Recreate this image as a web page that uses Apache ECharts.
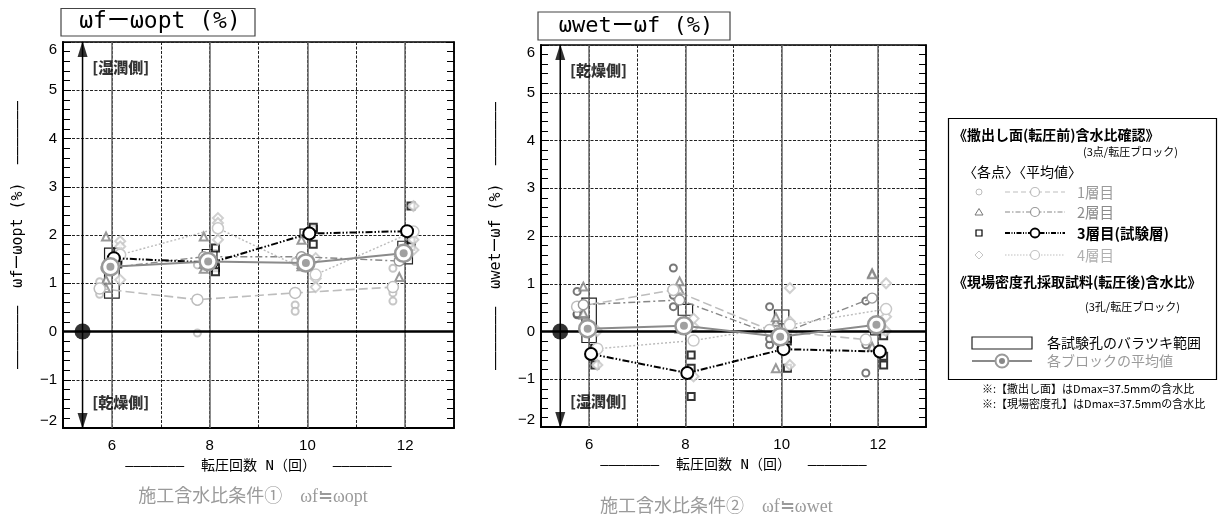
<!DOCTYPE html>
<html><head><meta charset="utf-8">
<script src="https://cdn.jsdelivr.net/npm/echarts@6/dist/echarts.min.js"></script>
<style>html,body{margin:0;padding:0;background:#fff}#c{width:1226px;height:520px}</style>
</head><body><div id="c"></div>
<script>
// ---------- data ----------
const passes = [6, 8, 10, 12];               // 転圧回数 N
const xTickLabels = [6, 8, 10, 12];

// Left chart: ωf − ωopt (%)
const leftL1Points = [[1.03, 0.87, 0.77], [-0.03, 1.38, 0.62], [0.55, 0.42, 1.45], [1.31, 0.80, 0.63]];
const leftL1Mean   = [0.89, 0.66, 0.80, 0.92];
const leftL2Points = [[1.97, 1.07, 0.90], [1.97, 1.40, 1.30], [1.90, 1.40, 1.35], [1.13, 1.60, 1.65]];
const leftL2Mean   = [1.31, 1.55, 1.55, 1.46];
const leftL3Points = [[1.66, 1.50, 1.40], [1.73, 1.32, 1.24], [2.12, 1.81, 2.16], [2.60, 1.88, 1.76]];
const leftL3Mean   = [1.52, 1.43, 2.03, 2.08];
const leftL4Points = [[1.87, 1.76, 1.07], [2.35, 2.25, 1.90], [1.52, 1.10, 0.92], [2.60, 1.90, 1.69]];
const leftL4Mean   = [1.59, 2.14, 1.18, 2.07];
const leftHoleRange = [[0.69, 1.73], [1.27, 1.70], [1.95, 2.12], [1.40, 1.87]];
const leftBlockMean = [1.34, 1.45, 1.42, 1.62];

// Right chart: ωwet − ωf (%)
const rightL1Points = [[0.84, 0.35, 0.37], [1.33, 0.52, 0.76], [0.52, -0.28, -0.15], [-0.87, -0.28, 0.64]];
const rightL1Mean   = [0.52, 0.87, 0.03, -0.17];
const rightL2Points = [[0.94, 0.35, 0.39], [1.05, 0.87, 0.06], [-0.77, 0.20, 0.30], [1.22, -0.32, 1.20]];
const rightL2Mean   = [0.56, 0.66, -0.09, 0.70];
const rightL3Points = [[-0.70, -0.35, -0.36], [-0.49, -1.36, -0.77], [-0.77, -0.20, -0.14], [-0.70, -0.52, -0.09]];
const rightL3Mean   = [-0.47, -0.87, -0.37, -0.42];
const rightL4Points = [[-0.70, 0.01, -0.40], [0.10, -0.94, 0.27], [0.91, -0.70, 0.21], [1.01, 0.31, 0.01]];
const rightL4Mean   = [-0.36, -0.19, 0.14, 0.47];
const rightHoleRange = [[-0.23, 0.70], [0.34, 0.57], [0.16, 0.45], [-0.07, 0.12]];
const rightBlockMean = [0.06, 0.12, -0.11, 0.14];

// ---------- styling ----------
const MONO = "'DejaVu Sans Mono','Noto Sans CJK JP',monospace";
const JP = "'Noto Sans CJK JP',sans-serif";
const NARROW = "'Liberation Sans Narrow','Liberation Sans',sans-serif";
const minus = v => (v < 0 ? '\u2212' + Math.abs(v) : String(v));

function xAxisCfg(g, name) {
  return {
    type: 'value', gridIndex: g, min: 5, max: 13, interval: 1,
    axisLine: { show: true, onZero: false, lineStyle: { color: '#000', width: 2 } },
    axisTick: { show: false },
    axisLabel: { color: '#000', fontSize: 15, fontFamily: NARROW, margin: 10,
      formatter: v => (xTickLabels.indexOf(v) >= 0 ? String(v) : '') },
    splitLine: { show: true, lineStyle: { color: '#222', width: 1, type: [3, 1.5] } },
    name: name, nameLocation: 'middle', nameGap: 31,
    nameTextStyle: { color: '#000', fontSize: 14, fontFamily: MONO }
  };
}
function yAxisCfg(g, name) {
  return {
    type: 'value', gridIndex: g, min: -2, max: 6, interval: 1, position: 'left',
    axisLine: { show: true, onZero: false, lineStyle: { color: '#000', width: 2 } },
    axisTick: { show: true, inside: true, length: 8, lineStyle: { color: '#000', width: 1 } },
    minorTick: { show: true, splitNumber: 5, length: 7, lineStyle: { color: '#000', width: 1 } },
    axisLabel: { color: '#000', fontSize: 15, fontFamily: NARROW, margin: 6, formatter: minus,
      verticalAlignMaxLabel: 'top', verticalAlignMinLabel: 'bottom' },
    splitLine: { show: true, lineStyle: { color: '#222', width: 1, type: [3, 1.5] } },
    name: name, nameLocation: 'middle', nameRotate: 90, nameGap: 37,
    nameTextStyle: { color: '#000', fontSize: 15, fontFamily: MONO }
  };
}
function yAxisRight(g) {
  return {
    type: 'value', gridIndex: g, min: -2, max: 6, interval: 1, position: 'right',
    axisLine: { show: true, onZero: false, lineStyle: { color: '#000', width: 1.5 } },
    axisTick: { show: true, inside: true, length: 8, lineStyle: { color: '#000', width: 1 } },
    minorTick: { show: true, splitNumber: 5, length: 7, lineStyle: { color: '#000', width: 1 } },
    axisLabel: { show: false }, splitLine: { show: false }
  };
}

const OFF = { L1: -0.25, L2: -0.12, L3: 0.12, L3m: 0.04, L4: 0.17, blk: -0.03 };

function buildSeries(g, d, l1PointColor, topText, bottomText) {
  const xi = g, yi = g * 2;
  const base = { xAxisIndex: xi, yAxisIndex: yi, animation: false };
  const pts = (arr, off) => passes.flatMap((n, i) => arr[i].map(v => [n + off, v]));
  const means = (arr, off) => passes.map((n, i) => [n + off, arr[i]]);
  const S = [];
  S.push(Object.assign({}, base, {
    type: 'line', data: [], z: 1, silent: true,
    markLine: { silent: true, symbol: 'none', label: { show: false }, animation: false,
      data: passes.map(n => ({ xAxis: n, lineStyle: { color: '#666', width: 1.5, type: 'solid' } }))
        .concat([{ yAxis: 0, lineStyle: { color: '#000', width: 2.5, type: 'solid' } }]) }
  }));
  S.push(Object.assign({}, base, { type: 'line', data: [[5.4, -2], [5.4, 6]], symbol: 'none', z: 2,
    lineStyle: { color: '#000', width: 1.5 }, silent: true }));
  S.push(Object.assign({}, base, { type: 'scatter', symbol: 'triangle', symbolSize: [10, 16], z: 3,
    itemStyle: { color: '#000' }, silent: true,
    data: [{ value: [5.4, 6], symbolOffset: [0, 7] }, { value: [5.4, -2], symbolRotate: 180, symbolOffset: [0, -7] }] }));
  S.push(Object.assign({}, base, { type: 'scatter', symbol: 'circle', symbolSize: 16, z: 6,
    itemStyle: { color: '#000' }, data: [[5.4, 0]], silent: true }));
  S.push(Object.assign({}, base, { type: 'scatter', symbolSize: 0, z: 6, silent: true,
    label: { show: true, position: 'right', distance: 0, color: '#000', fontSize: 15, fontWeight: 900, fontFamily: JP,
      formatter: p => p.name },
    data: [{ name: topText, value: [5.6, 5.47] }, { name: bottomText, value: [5.6, -1.47] }] }));
  S.push(Object.assign({}, base, { type: 'custom', z: 2,
    data: passes.map((n, i) => [n, d.hole[i][0], d.hole[i][1]]),
    encode: { x: 0, y: [1, 2] },
    renderItem: (params, api) => {
      const n = api.value(0), lo = api.value(1), hi = api.value(2);
      const p1 = api.coord([n - 0.15, hi]), p2 = api.coord([n + 0.15, lo]);
      return { type: 'rect', shape: { x: p1[0], y: p1[1], width: p2[0] - p1[0], height: p2[1] - p1[1] },
        style: { fill: 'none', stroke: '#222', lineWidth: 1.2 } };
    } }));
  S.push(Object.assign({}, base, { type: 'scatter', symbol: 'emptyCircle', symbolSize: 7, z: 3,
    itemStyle: { color: l1PointColor, borderWidth: 1.2 }, data: pts(d.l1p, OFF.L1) }));
  S.push(Object.assign({}, base, { type: 'scatter', symbol: 'emptyTriangle', symbolSize: 8, z: 3,
    itemStyle: { color: '#808080', borderWidth: 1.2 }, data: pts(d.l2p, OFF.L2) }));
  S.push(Object.assign({}, base, { type: 'scatter', symbol: 'emptyRect', symbolSize: 7, z: 3,
    itemStyle: { color: '#000', borderWidth: 1.2 }, data: pts(d.l3p, OFF.L3) }));
  S.push(Object.assign({}, base, { type: 'scatter', symbol: 'emptyDiamond', symbolSize: 10, z: 3,
    itemStyle: { color: '#c4c4c4', borderWidth: 1.2 }, data: pts(d.l4p, OFF.L4) }));
  const meanLine = (arr, off, color, width, type, mcolor, msize, mbw, z) => Object.assign({}, base, {
    type: 'line', z: z, symbol: 'circle', symbolSize: msize, data: means(arr, off),
    lineStyle: { color: color, width: width, type: type },
    itemStyle: { color: '#fff', borderColor: mcolor, borderWidth: mbw } });
  S.push(meanLine(d.l1m, OFF.L1, '#bdbdbd', 1.6, [9, 4], '#bdbdbd', 11, 1.5, 4));
  S.push(meanLine(d.l2m, OFF.L2, '#888', 1.4, [7, 3, 2, 3], '#999', 10, 1.4, 4));
  S.push(meanLine(d.l4m, OFF.L4, '#bbb', 1.4, [2, 2], '#c8c8c8', 11, 1.5, 4));
  S.push(meanLine(d.l3m, OFF.L3m, '#000', 2, [7, 2, 1.5, 2, 1.5, 2], '#000', 12, 2, 5));
  S.push(Object.assign({}, base, { type: 'line', z: 6, symbol: 'circle', symbolSize: 17,
    data: means(d.blk, OFF.blk), lineStyle: { color: '#8a8a8a', width: 2, type: 'solid' },
    itemStyle: { color: '#fff', borderColor: '#999', borderWidth: 2.5 } }));
  S.push(Object.assign({}, base, { type: 'scatter', z: 7, symbol: 'circle', symbolSize: 8,
    data: means(d.blk, OFF.blk), itemStyle: { color: '#888' } }));
  return S;
}

const leftData = { l1p: leftL1Points, l1m: leftL1Mean, l2p: leftL2Points, l2m: leftL2Mean,
  l3p: leftL3Points, l3m: leftL3Mean, l4p: leftL4Points, l4m: leftL4Mean, hole: leftHoleRange, blk: leftBlockMean };
const rightData = { l1p: rightL1Points, l1m: rightL1Mean, l2p: rightL2Points, l2m: rightL2Mean,
  l3p: rightL3Points, l3m: rightL3Mean, l4p: rightL4Points, l4m: rightL4Mean, hole: rightHoleRange, blk: rightBlockMean };

const DASH = '\u2015\u2015\u2015\u2015\u2015\u2015\u2015';
const xName = DASH + '  転圧回数 N（回）  ' + DASH;

// ---------- legend / titles (graphics) ----------
const G = [];
function txt(x, y, s, o) {
  G.push({ type: 'text', x: x, y: y, silent: true, style: Object.assign({ text: s, fill: '#000', fontSize: 14,
    fontFamily: JP, verticalAlign: 'middle', align: 'left' }, o || {}) });
}
G.push({ type: 'rect', shape: { x: 61, y: 8.5, width: 194, height: 27.5 }, style: { fill: '#fff', stroke: '#444', lineWidth: 1.2 } });
txt(160, 22.5, 'ωfーωopt (%)', { fontFamily: MONO, fontSize: 23, align: 'center' });
G.push({ type: 'rect', shape: { x: 538, y: 12, width: 192, height: 28 }, style: { fill: '#fff', stroke: '#444', lineWidth: 1.2 } });
txt(636, 26, 'ωwetーωf (%)', { fontFamily: MONO, fontSize: 22, align: 'center' });
txt(253, 497, '施工含水比条件①　ωf≒ωopt', { fill: '#9a9a9a', fontSize: 18, align: 'center', fontFamily: "'Liberation Serif','Noto Sans CJK JP',serif" });
txt(600, 507, '施工含水比条件②　ωf≒ωwet', { fill: '#9a9a9a', fontSize: 18, fontFamily: "'Liberation Serif','Noto Sans CJK JP',serif" });
G.push({ type: 'rect', shape: { x: 948.5, y: 118.5, width: 268, height: 261 }, style: { fill: '#fff', stroke: '#000', lineWidth: 1.2 } });
txt(953, 135, '《撒出し面(転圧前)含水比確認》', { fontWeight: 'bold', fontSize: 14 });
txt(1083, 152, '(3点/転圧ブロック)', { fontSize: 11 });
txt(963, 172, '〈各点〉〈平均値〉', { fontSize: 14 });
const rows = [
  { y: 192, name: '1層目', tc: '#9a9a9a', lc: '#bdbdbd', dash: [5, 3], mc: '#bdbdbd', shape: 'circle', bold: false },
  { y: 212, name: '2層目', tc: '#8a8a8a', lc: '#888', dash: [5, 2, 1.5, 2], mc: '#999', shape: 'triangle', bold: false },
  { y: 233, name: '3層目(試験層)', tc: '#000', lc: '#000', dash: [5, 1.5, 1, 1.5, 1, 1.5], mc: '#000', shape: 'rect', bold: true },
  { y: 255, name: '4層目', tc: '#b0b0b0', lc: '#c0c0c0', dash: [1.5, 1.5], mc: '#c4c4c4', shape: 'diamond', bold: false }
];
rows.forEach(r => {
  const cx = 979, cy = r.y;
  if (r.shape === 'circle') G.push({ type: 'circle', shape: { cx: cx, cy: cy, r: 3 }, style: { fill: '#fff', stroke: r.mc, lineWidth: 1 } });
  if (r.shape === 'triangle') G.push({ type: 'polygon', shape: { points: [[cx, cy - 3.5], [cx + 4, cy + 3], [cx - 4, cy + 3]] }, style: { fill: '#fff', stroke: '#777', lineWidth: 1 } });
  if (r.shape === 'rect') G.push({ type: 'rect', shape: { x: cx - 3, y: cy - 3, width: 6, height: 6 }, style: { fill: '#fff', stroke: '#000', lineWidth: 1.2 } });
  if (r.shape === 'diamond') G.push({ type: 'polygon', shape: { points: [[cx, cy - 4], [cx + 4, cy], [cx, cy + 4], [cx - 4, cy]] }, style: { fill: '#fff', stroke: r.mc, lineWidth: 1 } });
  G.push({ type: 'line', shape: { x1: 1005, y1: cy, x2: 1065, y2: cy }, style: { stroke: r.lc, lineWidth: r.bold ? 1.8 : 1.2, lineDash: r.dash } });
  G.push({ type: 'circle', shape: { cx: 1035, cy: cy, r: 4.5 }, style: { fill: '#fff', stroke: r.mc, lineWidth: r.bold ? 1.8 : 1.2 } });
  txt(1077, cy, r.name, { fill: r.tc, fontSize: 14.5, fontWeight: r.bold ? 'bold' : 'normal' });
});
txt(953, 282, '《現場密度孔採取試料(転圧後)含水比》', { fontWeight: 'bold', fontSize: 14 });
txt(1085, 307, '(3孔/転圧ブロック)', { fontSize: 11 });
G.push({ type: 'rect', shape: { x: 972, y: 337, width: 60, height: 12 }, style: { fill: '#fff', stroke: '#222', lineWidth: 1.2 } });
txt(1047, 343, '各試験孔のバラツキ範囲', { fontSize: 14 });
G.push({ type: 'line', shape: { x1: 972, y1: 361, x2: 1032, y2: 361 }, style: { stroke: '#8a8a8a', lineWidth: 2 } });
G.push({ type: 'circle', shape: { cx: 1002, cy: 361, r: 6.5 }, style: { fill: '#fff', stroke: '#999', lineWidth: 2 } });
G.push({ type: 'circle', shape: { cx: 1002, cy: 361, r: 3 }, style: { fill: '#888' } });
txt(1047, 361, '各ブロックの平均値', { fontSize: 14, fill: '#9a9a9a' });
txt(982, 389, '※:【撒出し面】はDmax=37.5mmの含水比', { fontSize: 11 });
txt(982, 404, '※:【現場密度孔】はDmax=37.5mmの含水比', { fontSize: 11 });

const option = {
  backgroundColor: '#fff',
  animation: false,
  grid: [
    { left: 63, top: 42, width: 391, height: 386, show: true, borderColor: '#000', borderWidth: 1.5, backgroundColor: 'transparent' },
    { left: 541, top: 45, width: 385, height: 382, show: true, borderColor: '#000', borderWidth: 1.5, backgroundColor: 'transparent' }
  ],
  xAxis: [xAxisCfg(0, xName), xAxisCfg(1, xName)],
  yAxis: [
    yAxisCfg(0, DASH + '  ωfーωopt (%)  ' + DASH), yAxisRight(0),
    yAxisCfg(1, DASH + '  ωwetーωf (%)  ' + DASH), yAxisRight(1)
  ],
  series: buildSeries(0, leftData, '#b8b8b8', '[湿潤側]', '[乾燥側]')
    .concat(buildSeries(1, rightData, '#555', '[乾燥側]', '[湿潤側]')),
  graphic: G
};
const chart = echarts.init(document.getElementById('c'), null, { renderer: 'canvas' });
chart.setOption(option);
</script></body></html>
